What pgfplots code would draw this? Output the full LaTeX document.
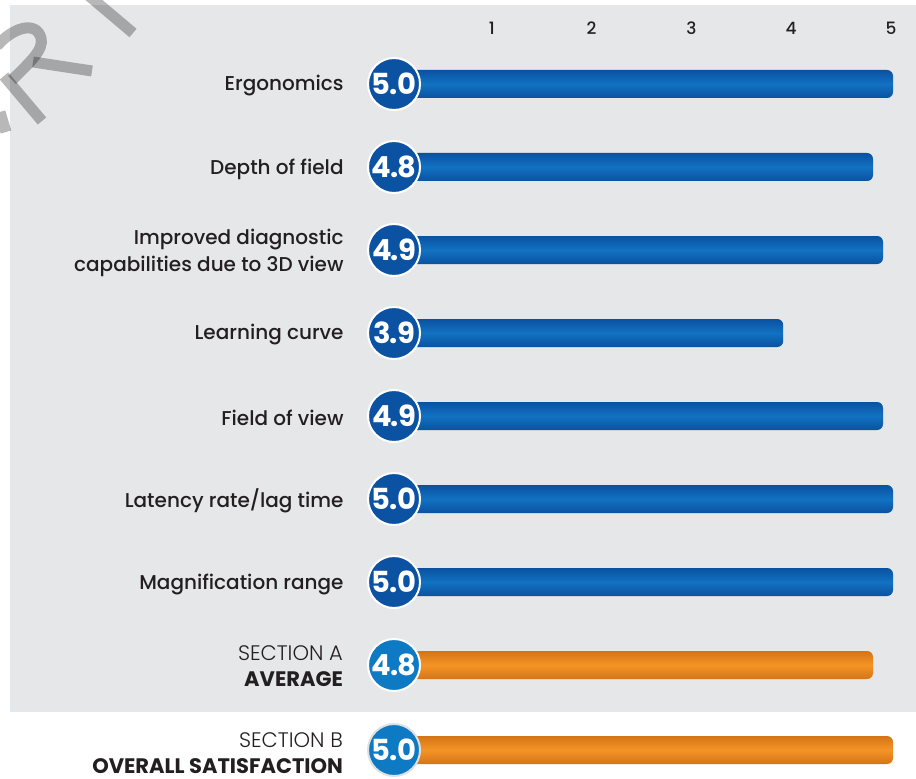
\documentclass[border=0pt]{standalone}
\usepackage{fontspec}
\setmainfont{Poppins}
\newfontfamily\poplight{Poppins Light}
\newfontfamily\popmed{Poppins Medium}
\usepackage{pgfplots}
\pgfplotsset{compat=1.18}
\definecolor{panel}{HTML}{E6E7E8}
\definecolor{txt}{HTML}{231F20}
\definecolor{bluedark}{HTML}{0A52A0}
\definecolor{bluemid}{HTML}{1172C2}
\definecolor{circdark}{HTML}{0B53A2}
\definecolor{circlight}{HTML}{0E7AC4}
\definecolor{orgdark}{HTML}{D47416}
\definecolor{orgmid}{HTML}{F59425}
\pgfplotsset{
  bluebar/.style={xbar,bar width=28bp,draw=none,rounded corners=6bp,
    top color=bluedark,bottom color=bluedark,middle color=bluemid},
  orgbar/.style={xbar,bar width=28bp,draw=none,rounded corners=6bp,
    top color=orgdark,bottom color=orgdark,middle color=orgmid},
  valcirc/.style 2 args={only marks,mark=*,mark size=26bp,
    mark options={fill=#1,draw=#2,line width=2bp},
    point meta=explicit,
    nodes near coords={\pgfmathprintnumber[fixed,fixed zerofill,precision=1,assume math mode=true]{\pgfplotspointmeta}},
    every node near coord/.append style={anchor=center,text=white,
      font=\fontsize{29bp}{29bp}\selectfont\bfseries\addfontfeatures{LetterSpace=-3}}},
}
\begin{document}
\begin{tikzpicture}
\useasboundingbox (0,0) rectangle (916bp,779bp);
\begin{scope}[shift={(0,779bp)},x=1bp,y=-1bp]
\fill[panel] (10,5) rectangle (916,712);
\begin{scope}[draw=black,opacity=0.28,line width=11bp]
\draw (-3,46) .. controls (12,28) and (36,20) .. (41,38) .. controls (44,50) and (30,62) .. (12,80);
\draw (4,76) -- (42,121);
\draw (33,62) -- (92,71);
\draw (88,-5) -- (133,33);
\draw (0,112) -- (6,132);
\end{scope}
\end{scope}
\begin{axis}[at={(0,0)},anchor=south west,scale only axis,
  width=916bp,height=779bp,
  xmin=-3.948,xmax=5.2305,ymin=0,ymax=779,y dir=reverse,
  hide axis,clip=false]
% tick labels
\pgfplotsinvokeforeach{1,2,3,4,5}{
  \node[text=txt,font=\popmed\fontsize{17bp}{17bp}\selectfont] at (axis cs:#1-0.02,28) {#1};
}
% blue bars
\addplot[bluebar] coordinates {(5.0,84)};
\addplot[bluebar] coordinates {(4.8,167)};
\addplot[bluebar] coordinates {(4.9,250)};
\addplot[bluebar] coordinates {(3.9,333)};
\addplot[bluebar] coordinates {(4.9,416)};
\addplot[bluebar] coordinates {(5.0,499)};
\addplot[bluebar] coordinates {(5.0,582)};
% orange bars
\addplot[orgbar] coordinates {(4.8,665)};
\addplot[orgbar] coordinates {(5.0,750)};
% value circles
\addplot[valcirc={circdark}{white}]
  coordinates {(0,84) [5.0] (0,167) [4.8] (0,250) [4.9] (0,333) [3.9]
               (0,416) [4.9] (0,499) [5.0] (0,582) [5.0]};
\addplot[valcirc={circlight}{white}] coordinates {(0,665) [4.8]};
\addplot[valcirc={circlight}{black!12}] coordinates {(0,750) [5.0]};
% category labels
\begin{scope}[every node/.style={anchor=east,align=right,text=txt,yshift=-2bp,
    font=\popmed\fontsize{20bp}{27bp}\selectfont}]
\node at (axis cs:-0.47,84) {Ergonomics};
\node at (axis cs:-0.47,167) {Depth of field};
\node at (axis cs:-0.47,251) {Improved diagnostic\\capabilities due to 3D view};
\node at (axis cs:-0.47,333) {Learning curve};
\node at (axis cs:-0.47,416) {Field of view};
\node at (axis cs:-0.47,499) {Latency rate/lag time};
\node at (axis cs:-0.47,582) {Magnification range};
\end{scope}
\begin{scope}[every node/.style={anchor=east,align=right,text=txt,inner sep=1bp,
    font=\fontsize{21bp}{26bp}\selectfont}]
\node at (axis cs:-0.50,666) {{\poplight SECTION A}\\\textbf{AVERAGE}};
\node at (axis cs:-0.50,753) {{\poplight SECTION B}\\\textbf{OVERALL SATISFACTION}};
\end{scope}
\end{axis}
\end{tikzpicture}
\end{document}
